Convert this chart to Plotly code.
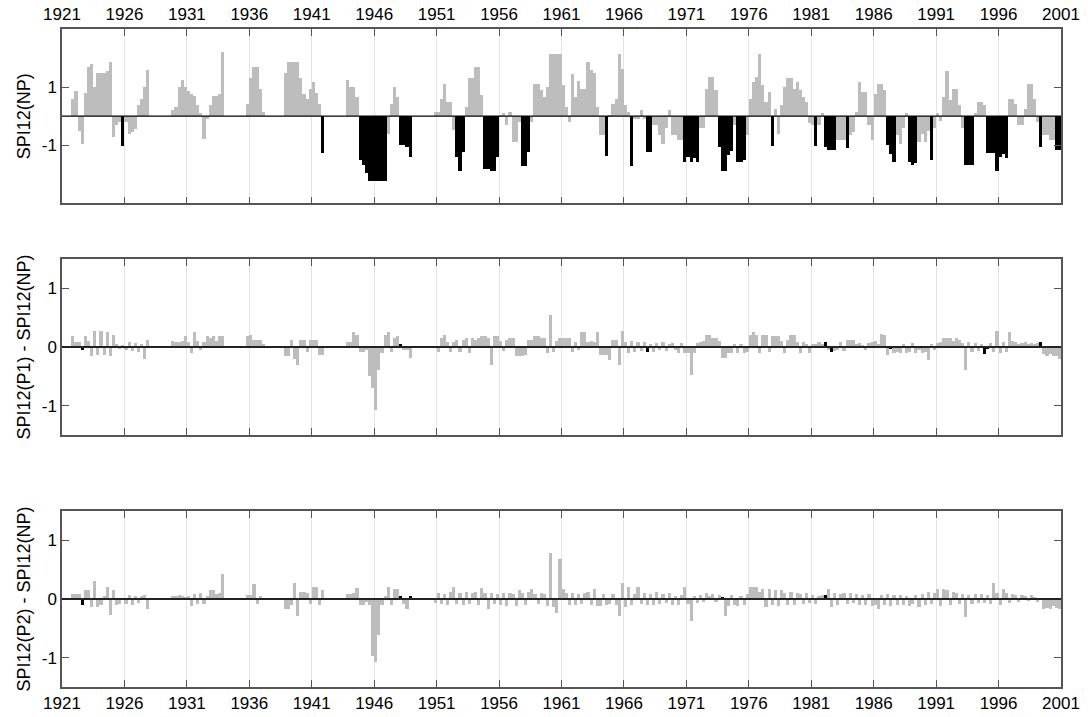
import plotly.graph_objects as go

START_YEAR = 1921
END_YEAR = 2001
tick_years = list(range(1921, 2002, 5))
quarters_per_year = 4

# SPI12 (no precipitation correction), quarterly values, 1921..2000 (4 per year)
spi_np = [
    0, 0, 0, 0.6,            # 1921
    0.87, -0.5, -0.96, 0.8,  # 1922
    1.7, 1.8, 1.0, 1.5,      # 1923
    1.5, 1.5, 1.55, 1.88,    # 1924
    -0.7, -0.3, -0.2, -1.03, # 1925
    -0.2, -0.6, -0.55, -0.45,# 1926
    0.4, 0.6, 1.0, 1.6,      # 1927
    0, 0, 0, 0,              # 1928
    0, 0, 0, 0.2,            # 1929
    0.3, 1.0, 1.25, 1.0,     # 1930
    0.85, 0.75, 0.7, 0.38,   # 1931
    0.1, -0.8, -0.1, 0.4,    # 1932
    0.7, 0.7, 0.75, 2.2,     # 1933
    0, 0, 0, 0,              # 1934
    0, 0, 0, 0.43,           # 1935
    1.3, 1.7, 1.7, 0.95,     # 1936
    0.15, 0, 0, 0,           # 1937
    0, 0, 0, 1.5,            # 1938
    1.88, 1.88, 1.88, 1.88,  # 1939
    1.3, 0.78, 0.6, 0.95,    # 1940
    1.18, 0.8, 0.43, -1.28,  # 1941
    0, 0, 0, 0,              # 1942
    0, 0, 0, 1.23,           # 1943
    1.0, 1.0, 0.66, -1.5,    # 1944
    -1.68, -1.96, -2.23, -2.23,  # 1945
    -2.23, -2.23, -2.23, -2.23,  # 1946
    -0.6, 0.43, 1.0, 0.66,   # 1947
    -1.0, -1.0, -1.05, -1.39,# 1948
    0, 0, 0, 0,              # 1949
    0, 0, 0, 0.15,           # 1950
    0.15, 0.6, 1.12, 0.5,    # 1951
    0.5, -0.48, -1.39, -1.9, # 1952
    -1.22, 0.3, 1.3, 1.3,    # 1953
    1.7, 1.7, 0.72, -1.8,    # 1954
    -1.8, -1.9, -1.9, -1.39, # 1955
    0.05, 0.1, -0.3, 0.15,   # 1956
    -0.88, -0.88, -0.2, -1.73,   # 1957
    -1.73, -1.22, -0.2, 1.12,    # 1958
    1.12, 0.9, 0.66, 1.0,    # 1959
    2.15, 2.15, 2.15, 2.15,  # 1960
    1.06, 0.32, -0.2, 1.46,  # 1961
    0.66, 1.2, 0.95, 0.95,   # 1962
    1.86, 1.6, 1.5, 0.3,     # 1963
    -0.65, -0.65, -1.36, 0.05,   # 1964
    0.43, 0.6, 2.15, 1.63,   # 1965
    0.38, 0.15, -1.73, -0.08,    # 1966
    -0.08, 0.2, -0.1, -1.22, # 1967
    -1.22, -0.3, -0.3, -0.65,    # 1968
    -0.94, -0.42, 0.2, -0.65,    # 1969
    -0.65, -0.82, -0.82, -1.56,  # 1970
    -1.4, -1.56, -1.45, -1.56,   # 1971
    -0.42, -0.42, 0.95, 1.36,    # 1972
    1.36, 0.9, -1.05, -1.9,  # 1973
    -1.9, -1.34, -1.2, -0.3, # 1974
    -1.56, -1.56, -1.5, -0.65,   # 1975
    0.6, 1.18, 1.35, 2.15,   # 1976
    1.06, 0.5, 0.83, -1.02,  # 1977
    0.25, -0.6, 0.38, 1.0,   # 1978
    1.3, 1.3, 0.95, 1.18,    # 1979
    0.9, 0.66, 0.5, -0.25,   # 1980
    -0.3, -1.02, -0.3, 0.1,  # 1981
    -1.05, -1.16, -1.16, -1.16,  # 1982
    -0.82, -0.82, -0.82, -1.1,   # 1983
    -0.65, -0.55, 0.15, 1.18,    # 1984
    0.83, 0.83, -0.3, -0.82, # 1985
    0.78, 1.12, 1.12, 0.9,   # 1986
    -1.0, -1.3, -1.56, -0.65,    # 1987
    -0.94, -0.4, 0.1, -1.56, # 1988
    -1.68, -1.6, -0.88, -0.6,    # 1989
    -0.9, -0.5, -1.5, -0.4,  # 1990
    0.1, -0.15, 0.66, 1.55,  # 1991
    0.55, 0.95, 0.95, 0.38,  # 1992
    -0.42, -1.68, -1.68, -1.68,  # 1993
    0.1, 0.5, 0.5, 0.38,     # 1994
    -1.28, -1.28, -1.28, -1.9,   # 1995
    -1.4, -1.3, -1.45, 0.6,  # 1996
    0.6, 0.43, -0.3, -0.3,   # 1997
    0.26, 1.12, 1.12, 0.6,   # 1998
    -0.2, -1.07, -0.65, -0.65,   # 1999
    -0.82, -0.82, -1.16, -1.16,  # 2000
]

# SPI12(P1) - SPI12(NP), quarterly
diff_p1 = [
    0, 0, 0, 0.18,           # 1921
    0.08, 0.08, -0.05, 0.18, # 1922
    0.1, -0.15, 0.27, -0.14, # 1923
    0.27, -0.14, 0.26, -0.16,# 1924
    0.2, 0.05, -0.04, 0.03,  # 1925
    -0.05, 0.08, -0.06, 0.06,# 1926
    -0.08, 0.05, -0.2, 0.12, # 1927
    0, 0, 0, 0,              # 1928
    0, 0, 0, 0.1,            # 1929
    0.08, 0.08, 0.1, 0.19,   # 1930
    0.08, -0.11, 0.26, 0.1,  # 1931
    -0.05, 0.08, 0.18, 0.15, # 1932
    0.18, 0.1, 0.18, 0.18,   # 1933
    0, 0, 0, 0,              # 1934
    0, 0, 0, 0.18,           # 1935
    0.2, 0.12, 0.12, 0.12,   # 1936
    0.05, 0, 0, 0,           # 1937
    0, 0, 0, -0.16,          # 1938
    -0.16, 0.12, -0.2, -0.3, # 1939
    0.12, 0.12, -0.08, 0.12, # 1940
    0.12, 0.12, -0.14, -0.14,# 1941
    0, 0, 0, 0,              # 1942
    0, 0, 0, 0.09,           # 1943
    0.09, 0.26, 0.2, -0.08,  # 1944
    -0.08, -0.05, -0.5, -0.7,# 1945
    -1.07, -0.4, -0.1, 0.2,  # 1946
    0.26, -0.08, 0.15, 0.18, # 1947
    0.05, -0.05, -0.05, -0.18,   # 1948
    0, 0, 0, 0,              # 1949
    0, 0, 0, 0,              # 1950
    -0.08, 0.15, 0.2, 0.08,  # 1951
    -0.08, 0.08, 0.12, -0.08,# 1952
    0.12, 0.15, -0.1, 0.15,  # 1953
    0.12, 0.15, 0.18, 0.18,  # 1954
    0.15, -0.3, 0.18, 0.18,  # 1955
    0.1, -0.06, 0.12, 0.15,  # 1956
    0.15, -0.16, -0.16, -0.16,   # 1957
    -0.14, 0.12, 0.12, 0.18, # 1958
    0.18, 0.15, 0.15, -0.11, # 1959
    0.55, -0.08, 0.1, 0.15,  # 1960
    0.15, 0.15, 0.15, -0.08, # 1961
    0.08, -0.05, 0.25, 0.25, # 1962
    0.08, 0.1, 0.08, 0.25,   # 1963
    -0.14, -0.14, -0.14, -0.22,  # 1964
    0.12, 0.12, -0.3, 0.27,  # 1965
    0.08, -0.1, 0.1, -0.08,  # 1966
    0.08, -0.06, 0.08, -0.09,# 1967
    0.05, -0.08, 0.06, -0.05,# 1968
    0.08, -0.06, 0.05, 0.06, # 1969
    -0.05, -0.1, 0.06, -0.1, # 1970
    -0.1, -0.47, -0.1, 0.06, # 1971
    0.08, 0.1, 0.2, 0.2,     # 1972
    0.15, 0.15, 0.1, -0.19,  # 1973
    -0.19, -0.1, -0.1, 0.05, # 1974
    -0.1, 0.05, -0.1, -0.08, # 1975
    0.2, 0.25, 0.2, -0.11,   # 1976
    0.2, 0.2, -0.08, 0.18,   # 1977
    0.18, 0.18, 0.1, -0.1,   # 1978
    0.12, 0.2, 0.2, 0.08,    # 1979
    -0.1, 0.08, 0.05, -0.1,  # 1980
    0.05, 0.05, 0.08, 0.05,  # 1981
    0.09, -0.05, -0.08, -0.06,   # 1982
    -0.05, 0.08, -0.06, 0.12,# 1983
    0.12, 0.12, 0.05, 0.06,  # 1984
    0.04, -0.05, 0.06, 0.08, # 1985
    0.1, 0.05, 0.23, 0.2,    # 1986
    -0.14, -0.03, -0.1, -0.08,   # 1987
    -0.1, 0.05, -0.1, -0.08, # 1988
    0.06, -0.1, -0.05, -0.1, # 1989
    -0.08, -0.22, 0.05, -0.05,   # 1990
    0.06, 0.08, 0.15, 0.15,  # 1991
    0.15, 0.1, 0.15, 0.12,   # 1992
    0.06, -0.4, 0.08, -0.08, # 1993
    0.06, -0.06, 0.05, -0.12,# 1994
    -0.03, 0.06, -0.08, 0.27,# 1995
    -0.1, 0.08, -0.08, 0.26, # 1996
    0.1, 0.08, 0.05, 0.06,   # 1997
    0.08, 0.05, 0.06, 0.05,  # 1998
    0.06, 0.08, -0.12, -0.15,# 1999
    -0.12, -0.15, -0.15, -0.2,   # 2000
]

# SPI12(P2) - SPI12(NP), quarterly
diff_p2 = [
    0, 0, 0, 0.09,           # 1921
    0.09, 0.09, -0.1, 0.16,  # 1922
    0.16, -0.14, 0.3, -0.14, # 1923
    -0.1, 0.05, 0.2, -0.28,  # 1924
    0.15, -0.1, -0.08, 0.02, # 1925
    -0.08, 0.06, -0.1, 0.05, # 1926
    -0.06, 0.05, 0.06, -0.17,# 1927
    0, 0, 0, 0,              # 1928
    0, 0, 0, 0.05,           # 1929
    0.05, 0.06, 0.05, 0.04,  # 1930
    0.05, -0.12, 0.08, -0.08,# 1931
    0.1, -0.08, 0.05, 0.15,  # 1932
    0.15, 0.08, 0.1, 0.42,   # 1933
    0, 0, 0, 0,              # 1934
    0, 0, 0, 0.07,           # 1935
    0.07, 0.26, -0.09, 0.05, # 1936
    0, 0, 0, 0,              # 1937
    0, 0, 0, -0.17,          # 1938
    -0.17, -0.1, 0.28, -0.29,# 1939
    0.12, 0.12, 0.1, -0.08,  # 1940
    0.2, 0.2, -0.1, 0.15,    # 1941
    0, 0, 0, 0,              # 1942
    0, 0, 0, 0.09,           # 1943
    0.09, 0.1, 0.19, -0.1,   # 1944
    -0.1, -0.05, -0.1, -0.97,# 1945
    -1.07, -0.62, -0.1, 0.05,# 1946
    0.2, -0.1, 0.17, 0.17,   # 1947
    0.05, -0.08, -0.17, 0.05,# 1948
    0, 0, 0, 0,              # 1949
    0, 0, 0, -0.06,          # 1950
    0.1, -0.08, 0.08, -0.1,  # 1951
    0.12, 0.2, -0.08, 0.1,   # 1952
    -0.1, 0.12, -0.08, 0.1,  # 1953
    0.12, -0.1, 0.18, 0.1,   # 1954
    -0.17, 0.1, -0.08, 0.08, # 1955
    -0.1, 0.1, -0.12, 0.1,   # 1956
    0.08, -0.12, 0.16, 0.1,  # 1957
    -0.1, 0.12, 0.17, 0.08,  # 1958
    -0.08, 0.1, 0.08, -0.12, # 1959
    0.78, -0.14, -0.23, 0.69,# 1960
    0.17, 0.1, -0.1, 0.1,    # 1961
    -0.1, 0.08, -0.08, 0.1,  # 1962
    0.12, -0.1, 0.17, -0.12, # 1963
    -0.12, 0.08, -0.1, -0.08,# 1964
    0.08, -0.1, -0.29, 0.28, # 1965
    -0.14, 0.2, -0.1, 0.08,  # 1966
    0.2, -0.08, 0.1, -0.1,   # 1967
    0.08, -0.1, 0.12, -0.08, # 1968
    0.08, -0.06, 0.1, -0.1,  # 1969
    0.05, -0.1, 0.06, 0.2,   # 1970
    -0.08, -0.38, 0.05, -0.06,   # 1971
    0.06, -0.05, 0.1, 0.05,  # 1972
    0.08, -0.05, 0.06, 0.03, # 1973
    -0.29, -0.12, 0.06, -0.1,# 1974
    -0.12, 0.05, -0.1, 0.08, # 1975
    0.2, 0.2, 0.2, 0.12,     # 1976
    0.17, -0.14, 0.17, -0.1, # 1977
    0.15, -0.12, 0.15, 0.1,  # 1978
    -0.1, 0.12, -0.1, 0.1,   # 1979
    0.08, -0.08, 0.1, -0.06, # 1980
    0.06, -0.08, 0.05, 0.06, # 1981
    0.06, 0.17, -0.14, 0.1,  # 1982
    -0.1, 0.08, 0.1, -0.08,  # 1983
    0.1, -0.06, 0.08, -0.1,  # 1984
    0.06, -0.1, 0.08, -0.12, # 1985
    -0.1, -0.17, 0.06, -0.1, # 1986
    0.08, -0.12, 0.06, -0.1, # 1987
    0.06, -0.1, 0.05, -0.12, # 1988
    -0.08, 0.06, -0.14, 0.08,# 1989
    -0.1, 0.12, -0.08, 0.1,  # 1990
    0.17, -0.12, 0.17, 0.15, # 1991
    -0.1, 0.12, 0.1, -0.08,  # 1992
    0.08, -0.3, 0.06, -0.08, # 1993
    0.08, -0.06, 0.08, -0.06,# 1994
    0.06, -0.08, 0.28, 0.1,  # 1995
    -0.1, 0.17, 0.1, -0.06,  # 1996
    0.08, 0.06, -0.05, 0.06, # 1997
    0.05, -0.04, 0.06, 0.04, # 1998
    -0.05, 0.02, -0.17, -0.15,   # 1999
    -0.17, -0.12, -0.15, -0.17,  # 2000
]

# quarters (year, quarter) flagged as drought-event months in the difference panels
p1_black = [(1922, 3), (1948, 1), (1967, 4), (1982, 1), (1982, 3),
            (1987, 2), (1994, 4), (1995, 1), (1999, 2)]
p2_black = [(1922, 3), (1948, 1), (1948, 4), (1973, 4), (1982, 1), (1999, 2)]

DROUGHT_THRESHOLD = -1.0

GRAY = "#bdbdbd"
BLACK = "#000000"
FRAME = "#555555"
FONT = "Liberation Sans, Arial, sans-serif"

n = len(spi_np)
step = 1.0 / quarters_per_year
t = [START_YEAR + step / 2 + step * i for i in range(n)]


def qindex(yq):
    y, q = yq
    return (y - START_YEAR) * quarters_per_year + (q - 1)


top_colors = [BLACK if v <= DROUGHT_THRESHOLD else GRAY for v in spi_np]
p1_colors = [GRAY] * n
for yq in p1_black:
    p1_colors[qindex(yq)] = BLACK
p2_colors = [GRAY] * n
for yq in p2_black:
    p2_colors[qindex(yq)] = BLACK

fig = go.Figure()
fig.add_trace(go.Bar(x=t, y=spi_np, width=step, marker=dict(color=top_colors, line_width=0),
                     xaxis="x", yaxis="y", showlegend=False))
fig.add_trace(go.Bar(x=t, y=diff_p1, width=step, marker=dict(color=p1_colors, line_width=0),
                     xaxis="x2", yaxis="y2", showlegend=False))
fig.add_trace(go.Bar(x=t, y=diff_p2, width=step, marker=dict(color=p2_colors, line_width=0),
                     xaxis="x3", yaxis="y3", showlegend=False))

xcommon = dict(range=[START_YEAR, END_YEAR], tickvals=tick_years,
               ticktext=[str(y) for y in tick_years],
               ticks="inside", ticklen=7, tickwidth=1.3, tickcolor=FRAME,
               showline=True, linecolor=FRAME, linewidth=1.5, mirror="ticks",
               showgrid=True, gridcolor="#e4e4e4", gridwidth=1, zeroline=False,
               automargin=False,
               tickfont=dict(family=FONT, size=17, color="black"), domain=[0, 1])
ycommon = dict(ticks="inside", ticklen=7, tickwidth=1.3, tickcolor=FRAME,
               showline=True, linecolor=FRAME, linewidth=1.5, mirror="ticks",
               showgrid=False, zeroline=False,
               tickfont=dict(family=FONT, size=17, color="black"))
title_font = dict(family=FONT, size=18, color="black")

fig.update_layout(
    width=1088, height=717,
    margin=dict(l=62, r=27, t=29, b=30),
    paper_bgcolor="white", plot_bgcolor="white",
    bargap=0,
    xaxis=dict(xcommon, anchor="y", side="top", showticklabels=True),
    xaxis2=dict(xcommon, anchor="y2", showticklabels=False),
    xaxis3=dict(xcommon, anchor="y3", side="bottom", showticklabels=True),
    yaxis=dict(ycommon, domain=[0.735, 1.0], range=[-3, 3], tickvals=[-1, 1], ticktext=["-1", "1"],
               title=dict(text="SPI12(NP)", font=title_font, standoff=6)),
    yaxis2=dict(ycommon, domain=[0.383, 0.6505], range=[-1.5, 1.5], tickvals=[-1, 0, 1],
                ticktext=["-1", "0", "1"],
                title=dict(text="SPI12(P1) - SPI12(NP)", font=title_font, standoff=6)),
    yaxis3=dict(ycommon, domain=[0.0, 0.2675], range=[-1.5, 1.5], tickvals=[-1, 0, 1],
                ticktext=["-1", "0", "1"],
                title=dict(text="SPI12(P2) - SPI12(NP)", font=title_font, standoff=6)),
)

for xa, ya, w, c in [("x", "y", 1.2, "black"), ("x2", "y2", 2, "#222222"), ("x3", "y3", 2, "#222222")]:
    fig.add_shape(type="line", xref=xa + " domain", yref=ya, x0=0, x1=1, y0=0, y1=0,
                  line=dict(color=c, width=w), layer="above")

fig.write_html("out.html")
